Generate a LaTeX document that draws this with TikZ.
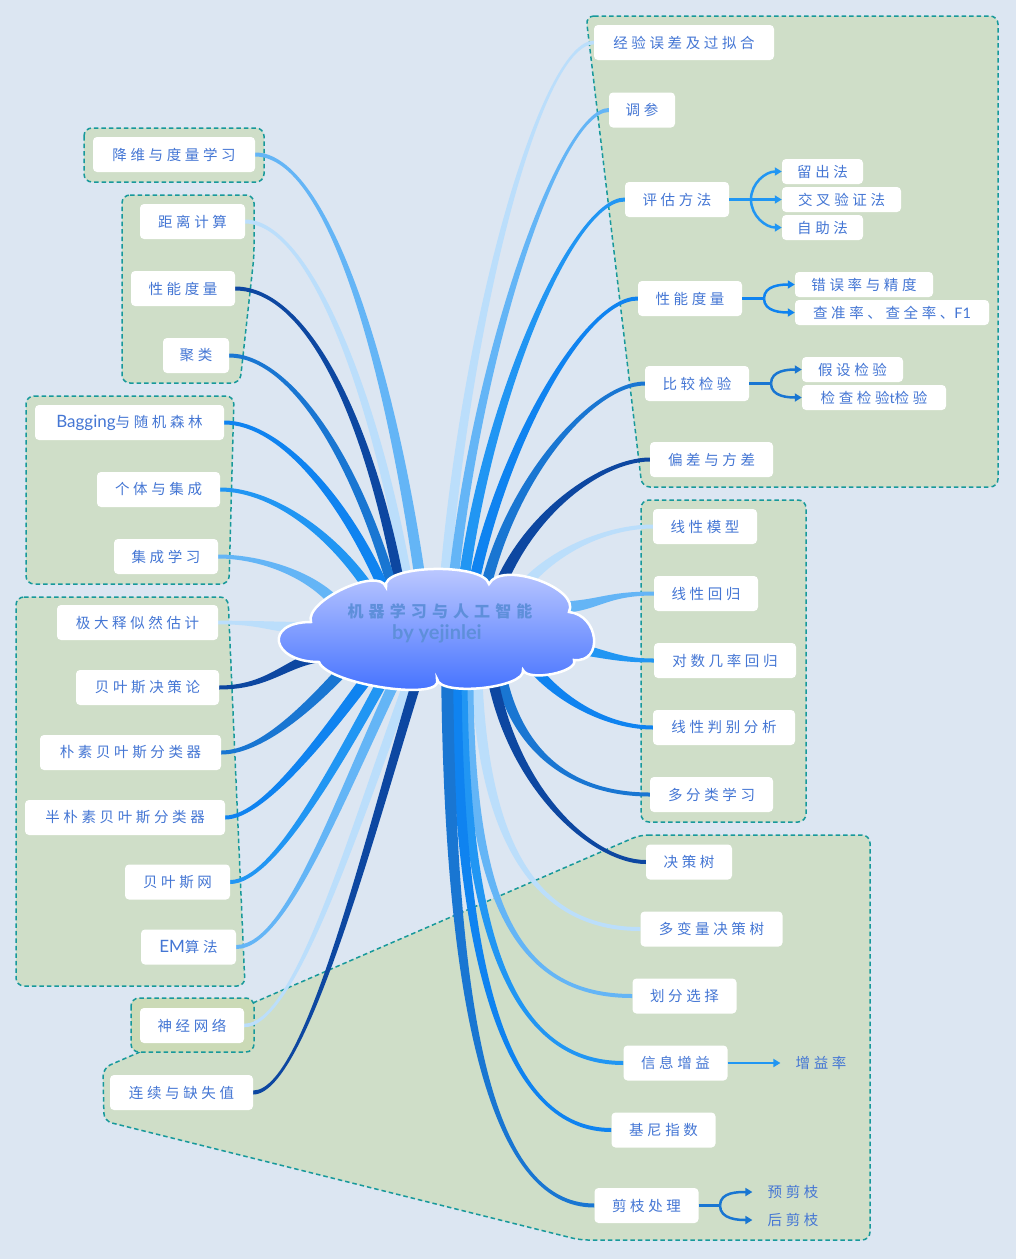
\documentclass[tikz,border=0pt]{standalone}
\usepackage{fontspec}
\newfontfamily\cjk{Noto Sans CJK SC}[LetterSpace=25]
\newfontfamily\cjkt{Noto Sans CJK SC}[LetterSpace=32]
\newfontfamily\latin{Lato}
\usetikzlibrary{calc,arrows.meta}
\pgfdeclarelayer{bgl}
\pgfdeclarelayer{brl}
\pgfsetlayers{bgl,brl,main}
\definecolor{bgc}{HTML}{DCE6F2}
\definecolor{grpf}{HTML}{CFDEC8}
\definecolor{grpf2}{HTML}{CBDAB6}
\definecolor{grpb}{HTML}{17999B}
\definecolor{txt}{HTML}{4476D4}
\definecolor{ttl}{HTML}{5E8FDA}
\definecolor{cA}{HTML}{0D47A1}
\definecolor{cB}{HTML}{1976D2}
\definecolor{cC}{HTML}{2196F3}
\definecolor{cD}{HTML}{0F83F0}
\definecolor{cE}{HTML}{64B5F6}
\definecolor{cF}{HTML}{BBDEFB}
\definecolor{cloudT}{HTML}{C4CEFF}
\definecolor{cloudB}{HTML}{3B6BFF}
% tapered branch: colour, start, control 1, control 2, end, start half-width, end half-width
\newcommand\brc[7]{%
  \fill[#1] ($(#2)!#6!90:(#3)$) .. controls ($(#3)!#6!-90:(#2)$) and ($(#4)!#7!90:(#5)$) .. ($(#5)!#7!-90:(#4)$)
    -- ($(#5)!#7!90:(#4)$) .. controls ($(#4)!#7!-90:(#5)$) and ($(#3)!#6!90:(#2)$) .. ($(#2)!#6!-90:(#3)$) -- cycle;}
\begin{document}
\begin{tikzpicture}[x=1pt,y=-1pt,
  nbox/.style={fill=white, rounded corners=4pt, minimum height=35pt, inner sep=0pt,
    font=\cjk\fontsize{14.5}{17}\selectfont, text=txt},
  sbox/.style={nbox, minimum height=25pt},
  ptext/.style={inner sep=0pt, font=\cjk\fontsize{14.5}{17}\selectfont, text=txt},
  grp/.style={fill=grpf, draw=grpb, line width=1.5pt, dash pattern=on 4.5pt off 3pt, rounded corners=8pt},
  sline/.style={line width=2.5pt},
  sarr/.style={sline, -{Triangle[length=7pt,width=8pt]}}]
\useasboundingbox (0,0) rectangle (1016,1259);
\begin{pgfonlayer}{bgl}
\fill[bgc] (0,0) rectangle (1016,1259);
\path[grp] (586,16) -- (998,16) -- (998,487) -- (642,487) -- cycle;
\path[grp] (641,500) rectangle (806,822);
\path[grp] (640,835) -- (870,835) -- (870,1240) -- (580,1240) -- (104,1121) -- (103,1068) -- cycle;
\path[grp, fill=grpf2] (131,998) rectangle (254,1052);
\path[grp] (84,128) rectangle (264,182);
\path[grp] (122,195) -- (254,195) -- (254,256) -- (240,383) -- (122,383) -- cycle;
\path[grp] (26,396) -- (234,396) -- (229,584) -- (26,584) -- cycle;
\path[grp] (16,597) -- (228,597) -- (245,986) -- (16,986) -- cycle;
\end{pgfonlayer}

% right top group
\node[nbox, minimum width=180pt] (jy) at (684,42.5) {经验误差及过拟合};
\node[nbox, minimum width=66pt] (tc) at (642,110) {调参};
\node[nbox, minimum width=104pt] (pg) at (677,199.5) {评估方法};
\node[sbox, minimum width=81pt] (lc) at (822.5,171.5) {留出法};
\node[sbox, minimum width=119pt] (jc) at (841.5,199.5) {交叉验证法};
\node[sbox, minimum width=81pt] (zz) at (822.5,227.5) {自助法};
\node[nbox, minimum width=104pt] (xnR) at (690,298.5) {性能度量};
\node[sbox, minimum width=138pt] (cw) at (864,284.5) {错误率与精度};
\node[sbox, minimum width=194pt] (cz) at (892,312.5) {查准率、查全率、{\latin F1}};
\node[nbox, minimum width=104pt] (bj) at (697,383.5) {比较检验};
\node[sbox, minimum width=101pt] (js) at (852.5,369.5) {假设检验};
\node[sbox, minimum width=144pt] (jt) at (874,397.5) {检查检验{\latin t}检验};
\node[nbox, minimum width=123pt] (pc) at (711.5,459.5) {偏差与方差};
% right middle group
\node[nbox, minimum width=104pt] (xx) at (705,526.5) {线性模型};
\node[nbox, minimum width=104pt] (xh) at (706,593.5) {线性回归};
\node[nbox, minimum width=142pt] (ds) at (725,660.5) {对数几率回归};
\node[nbox, minimum width=142pt] (xp) at (724,727.5) {线性判别分析};
\node[nbox, minimum width=123pt] (dfl) at (711.5,794.5) {多分类学习};
% lower right group
\node[nbox, minimum width=86pt] (jcs) at (689,862) {决策树};
\node[nbox, minimum width=142pt] (dbl) at (711.5,929) {多变量决策树};
\node[nbox, minimum width=104pt] (hf) at (684.5,996) {划分选择};
\node[nbox, minimum width=104pt] (xi) at (675.5,1063) {信息增益};
\node[ptext] (zy) at (821,1063) {增益率};
\node[nbox, minimum width=104pt] (jn) at (663.5,1130) {基尼指数};
\node[nbox, minimum width=104pt] (jz) at (646.5,1205.5) {剪枝处理};
\node[ptext] (yj) at (793,1192) {预剪枝};
\node[ptext] (hj) at (793,1220) {后剪枝};
\node[nbox, minimum width=104pt] (sj) at (192,1025.5) {神经网络};
\node[nbox, minimum width=143pt] (lx) at (181.5,1092.5) {连续与缺失值};
% left groups
\node[nbox, minimum width=162pt] (jw) at (174,154.5) {降维与度量学习};
\node[nbox, minimum width=105pt] (jl) at (192.5,221.5) {距离计算};
\node[nbox, minimum width=104pt] (xnL) at (183,288.5) {性能度量};
\node[nbox, minimum width=66pt] (jl2) at (196,355.5) {聚类};
\node[nbox, minimum width=189pt] (bag) at (129.5,422.5) {{\latin\fontsize{17}{17}\selectfont Bagging}与随机森林};
\node[nbox, minimum width=123pt] (gt) at (158.5,489.5) {个体与集成};
\node[nbox, minimum width=104pt] (jx) at (166,556.5) {集成学习};
\node[nbox, minimum width=161pt] (jd) at (137.5,622.5) {极大释似然估计};
\node[nbox, minimum width=143pt] (bys) at (147.5,687.5) {贝叶斯决策论};
\node[nbox, minimum width=181pt] (pbs) at (130.5,752.5) {朴素贝叶斯分类器};
\node[nbox, minimum width=200pt] (bpb) at (125,817.5) {半朴素贝叶斯分类器};
\node[nbox, minimum width=105pt] (byw) at (177.5,882) {贝叶斯网};
\node[nbox, minimum width=95pt] (em) at (188.5,947) {{\latin\fontsize{17}{17}\selectfont EM}算法};

% sub arrows
\coordinate (pgj) at (751,199.5);
\draw[sarr, cC] (pg.east) -- (jc.west);
\draw[sarr, cC] (pgj) to[out=90,in=180] (lc.west);
\draw[sarr, cC] (pgj) to[out=-90,in=180] (zz.west);
\coordinate (xnj) at (764,298.5);
\draw[sline, cD] (xnR.east) -- (xnj);
\draw[sarr, cD] (xnj) to[out=90,in=180] (cw.west);
\draw[sarr, cD] (xnj) to[out=-90,in=180] (cz.west);
\coordinate (bjj) at (771,383.5);
\draw[sline, cB] (bj.east) -- (bjj);
\draw[sarr, cB] (bjj) to[out=90,in=180] (js.west);
\draw[sarr, cB] (bjj) to[out=-90,in=180] (jt.west);
\draw[sarr, cC] (xi.east) -- ([xshift=-15pt]zy.west);
\coordinate (jzj) at (720,1205.5);
\draw[sline, cB] (jz.east) -- (jzj);
\draw[sarr, cB] (jzj) to[out=90,in=180] ([xshift=-15pt]yj.west);
\draw[sarr, cB] (jzj) to[out=-90,in=180] ([xshift=-15pt]hj.west);

% branches
\begin{pgfonlayer}{brl}
% upper right
\coordinate (s1) at (442,615); \brc{cF}{s1}{462,330}{540,42.5}{jy.west}{5pt}{1.8pt}
\coordinate (s2) at (450,615); \brc{cE}{s2}{472,360}{560,110}{tc.west}{5pt}{2pt}
\coordinate (s3) at (460,615); \brc{cC}{s3}{478,420}{570,199.5}{pg.west}{5.5pt}{2pt}
\coordinate (s4) at (468,615); \brc{cD}{s4}{490,470}{580,298.5}{xnR.west}{5.5pt}{2pt}
\coordinate (s5) at (480,615); \brc{cB}{s5}{500,490}{590,383.5}{bj.west}{5.5pt}{2pt}
\coordinate (s6) at (490,615); \brc{cA}{s6}{515,520}{600,459.5}{pc.west}{6pt}{2pt}
\coordinate (s7) at (505,615); \brc{cF}{s7}{530,560}{600,526.5}{xx.west}{6pt}{2pt}
% middle right
\coordinate (s8) at (545,608); \brc{cE}{s8}{600,608}{600,593.5}{xh.west}{6pt}{2pt}
\coordinate (s9) at (550,645); \brc{cC}{s9}{600,650}{610,660.5}{ds.west}{6pt}{2pt}
\coordinate (s10) at (515,640); \brc{cD}{s10}{540,690}{600,727.5}{xp.west}{6pt}{2pt}
\coordinate (s11) at (495,640); \brc{cB}{s11}{505,750}{570,794.5}{dfl.west}{6pt}{2pt}
% lower right
\coordinate (s12) at (488,645); \brc{cA}{s12}{500,780}{590,862}{jcs.west}{5.5pt}{2pt}
\coordinate (s13) at (476,645); \brc{cF}{s13}{478,850}{540,929}{dbl.west}{5.5pt}{2pt}
\coordinate (s14) at (468,645); \brc{cE}{s14}{465,900}{515,996}{hf.west}{5.5pt}{2pt}
\coordinate (s15) at (462,645); \brc{cC}{s15}{460,930}{510,1063}{xi.west}{5.5pt}{2pt}
\coordinate (s16) at (456,645); \brc{cD}{s16}{455,980}{510,1130}{jn.west}{5.5pt}{2pt}
\coordinate (s17) at (447,645); \brc{cB}{s17}{448,1010}{490,1205.5}{jz.west}{6pt}{2pt}
% upper left
\coordinate (s18) at (425,615); \brc{cE}{s18}{395,380}{330,154.5}{jw.east}{5.5pt}{2pt}
\coordinate (s19) at (413,615); \brc{cF}{s19}{380,400}{310,221.5}{jl.east}{5pt}{2pt}
\coordinate (s20) at (405,615); \brc{cA}{s20}{375,430}{310,288.5}{xnL.east}{5pt}{2pt}
\coordinate (s21) at (400,615); \brc{cB}{s21}{360,460}{290,355.5}{jl2.east}{5pt}{2pt}
\coordinate (s22) at (395,615); \brc{cD}{s22}{350,500}{280,422.5}{bag.east}{5.5pt}{2pt}
\coordinate (s23) at (385,615); \brc{cC}{s23}{345,540}{275,489.5}{gt.east}{5.5pt}{2pt}
\coordinate (s24) at (345,615); \brc{cE}{s24}{320,575}{260,556.5}{jx.east}{6pt}{2pt}
% left middle
\coordinate (s25) at (320,628); \brc{cF}{s25}{268,628}{268,622.5}{jd.east}{6pt}{1.8pt}
\coordinate (s26) at (335,655); \brc{cA}{s26}{290,655}{275,687.5}{bys.east}{6pt}{2pt}
% lower left
\coordinate (s27) at (370,640); \brc{cB}{s27}{310,710}{260,752.5}{pbs.east}{6pt}{2pt}
\coordinate (s28) at (395,640); \brc{cD}{s28}{330,730}{265,817.5}{bpb.east}{6pt}{2pt}
\coordinate (s29) at (405,640); \brc{cC}{s29}{340,760}{275,882}{byw.east}{5.5pt}{2pt}
\coordinate (s30) at (415,640); \brc{cE}{s30}{345,780}{290,947}{em.east}{5.5pt}{2pt}
\coordinate (s31) at (425,640); \brc{cF}{s31}{365,790}{300,1025.5}{sj.east}{5pt}{1.8pt}
\coordinate (s32) at (430,640); \brc{cA}{s32}{380,790}{310,1092.5}{lx.east}{5pt}{2pt}
\end{pgfonlayer}

% central cloud
\coordinate (cl) at (437,628);
\path[draw=white, line width=2.5pt, top color=cloudT, bottom color=cloudB]
  (311,622) .. controls (304,601) and (379,566) .. (386,587)
  .. controls (380,565) and (483,562) .. (489,584)
  .. controls (501,560) and (581,588) .. (569,612)
  .. controls (599,615) and (604,663) .. (574,660)
  .. controls (579,672) and (528,682) .. (523,670)
  .. controls (526,688) and (440,697) .. (437,679)
  .. controls (446,702) and (328,685) .. (319,662)
  .. controls (271,662) and (263,622) .. cycle;
\node[inner sep=0pt, text=ttl, font=\cjkt\bfseries\fontsize{16}{18}\selectfont] (t1) at (440,611) {机器学习与人工智能};
\node[inner sep=0pt, text=ttl, font=\latin\bfseries\fontsize{20}{22}\selectfont] (t2) at (437,634) {by yejinlei};
\end{tikzpicture}
\end{document}
